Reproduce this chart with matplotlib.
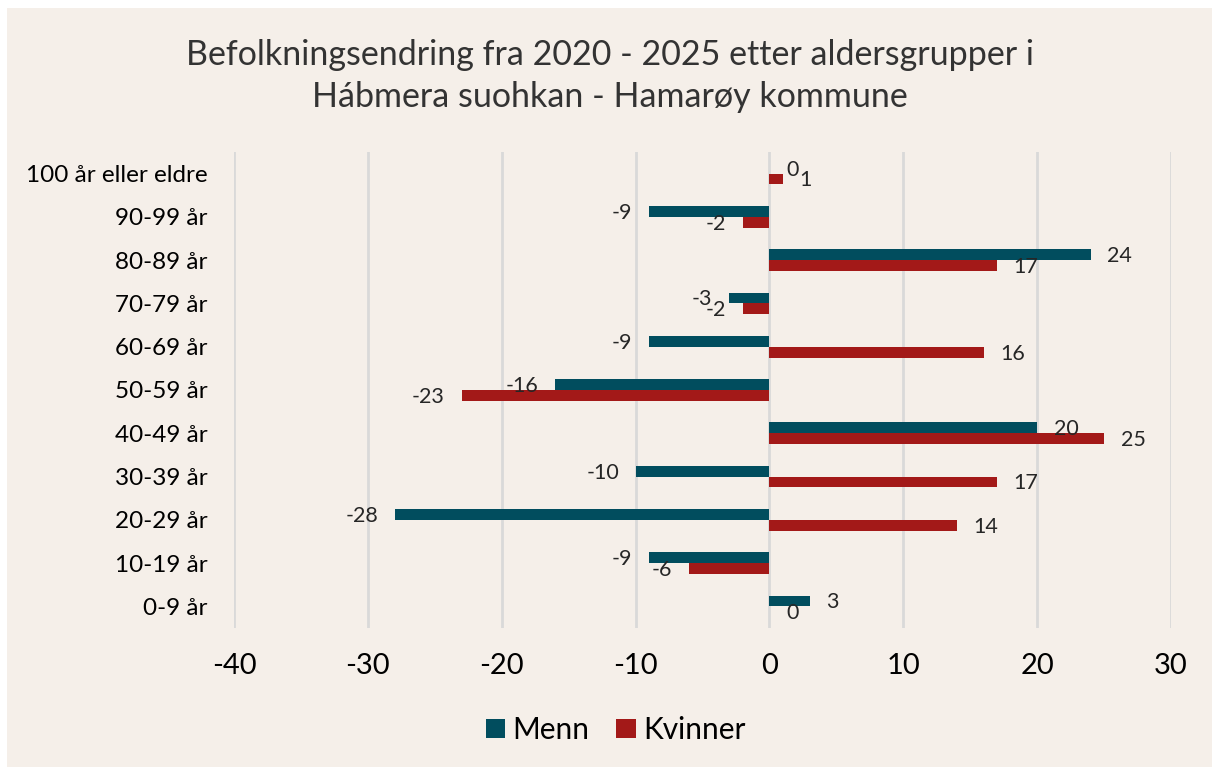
import numpy as np
import matplotlib.pyplot as plt
from matplotlib.patches import Rectangle

# Age groups, bottom to top
age_groups = ["0-9 år", "10-19 år", "20-29 år", "30-39 år", "40-49 år", "50-59 år",
              "60-69 år", "70-79 år", "80-89 år", "90-99 år", "100 år eller eldre"]
menn = [3, -9, -28, -10, 20, -16, -9, -3, 24, -9, 0]
kvinner = [0, -6, 14, 17, 25, -23, 16, -2, 17, -2, 1]

bg = "#F5EFE9"
c_menn = "#014D5E"
c_kvinner = "#A31918"

plt.rcParams['font.family'] = ['Lato', 'DejaVu Sans']
plt.rcParams['axes.unicode_minus'] = False

fig = plt.figure(figsize=(12.12, 7.67), dpi=100)
fig.patch.set_facecolor("white")
fig.patches.append(Rectangle((7 / 1212, 0), 1, 1 - 8 / 767, transform=fig.transFigure,
                             facecolor=bg, edgecolor="none", zorder=-10))
ax = fig.add_axes([234 / 1212, 1 - 628 / 767, (1171 - 234) / 1212, (628 - 152) / 767])
ax.set_facecolor(bg)

y = np.arange(len(age_groups))
h = 0.25
ax.barh(y + h / 2, menn, height=h, color=c_menn, label="Menn", zorder=3)
ax.barh(y - h / 2, kvinner, height=h, color=c_kvinner, label="Kvinner", zorder=3)

# data labels outside the bar end
for yy, vals in ((y + h / 2, menn), (y - h / 2, kvinner)):
    for yi, v in zip(yy, vals):
        off = 12 if v >= 0 else -12
        ax.annotate(str(v), (v, yi), xytext=(off, -1), textcoords="offset points",
                    ha="left" if v >= 0 else "right", va="center",
                    fontsize=15.5, color="#262626")

ax.set_xlim(-40, 30)
ax.set_ylim(-0.5, len(age_groups) - 0.5)
ax.set_xticks(range(-40, 31, 10))
ax.set_yticks(y)
ax.set_yticklabels(age_groups)
ax.tick_params(axis="x", labelsize=21, length=0, pad=18, colors="black")
ax.tick_params(axis="y", labelsize=17.5, length=0, pad=19, colors="black")
ax.grid(axis="x", color="#D9D9D9", linewidth=2, zorder=0)
for s in ax.spines.values():
    s.set_visible(False)

fig.text(0.503, 1 - 76 / 767,
         "Befolkningsendring fra 2020 - 2025 etter aldersgrupper i\nHábmera suohkan - Hamarøy kommune",
         ha="center", va="center", fontsize=24.5, color="#333333", linespacing=1.35)

fig.legend(loc="center", bbox_to_anchor=(0.508, 1 - 730 / 767), ncol=2, frameon=False,
           fontsize=21.5, handlelength=0.65, handleheight=0.65, handletextpad=0.25,
           columnspacing=0.9)

fig.savefig("out.png", dpi=100, facecolor=fig.get_facecolor())
